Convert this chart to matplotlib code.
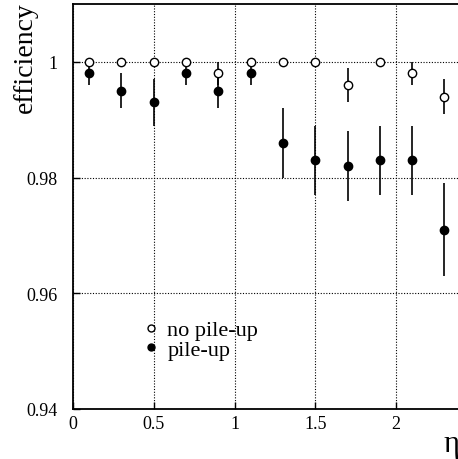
#!/usr/bin/env python3
import matplotlib
matplotlib.use("Agg")
from matplotlib import pyplot as plt
from matplotlib.lines import Line2D

# eta bin centres
eta = [0.1, 0.3, 0.5, 0.7, 0.9, 1.1, 1.3, 1.5, 1.7, 1.9, 2.1, 2.3]

# efficiency without pile-up
eff_nopu = [1.000, 1.000, 1.000, 1.000, 0.998, 1.000, 1.000, 1.000, 0.996, 1.000, 0.998, 0.994]
err_nopu = [0.000, 0.000, 0.000, 0.000, 0.002, 0.000, 0.000, 0.000, 0.003, 0.000, 0.002, 0.003]

# efficiency with pile-up
eff_pu = [0.998, 0.995, 0.993, 0.998, 0.995, 0.998, 0.986, 0.983, 0.982, 0.983, 0.983, 0.971]
err_pu = [0.002, 0.003, 0.004, 0.002, 0.003, 0.002, 0.006, 0.006, 0.006, 0.006, 0.006, 0.008]

xticks = [0, 0.5, 1, 1.5, 2]
xticklabels = ["0", "0.5", "1", "1.5", "2"]
yticks = [0.94, 0.96, 0.98, 1.0]
yticklabels = ["0.94", "0.96", "0.98", "1"]

plt.rcParams["font.family"] = ["Liberation Serif", "DejaVu Serif"]

W, H = 458, 460
fig = plt.figure(figsize=(W / 100, H / 100), dpi=100)
ax = fig.add_axes([73 / W, 50 / H, 387.6 / W, 405 / H])

ax.errorbar(eta, eff_pu, yerr=err_pu, fmt="o", color="black", ms=6,
            elinewidth=1.2, capsize=0, zorder=3)
ax.errorbar(eta, eff_nopu, yerr=err_nopu, fmt="o", color="black", mfc="white",
            mec="black", mew=1.0, ms=6, elinewidth=1.2, capsize=0, zorder=4)

ax.set_xlim(0, 2.4)
ax.set_ylim(0.94, 1.01)
ax.set_xticks(xticks)
ax.set_xticklabels(xticklabels)
ax.set_yticks(yticks)
ax.set_yticklabels(yticklabels)
ax.tick_params(direction="in", length=5, width=1, labelsize=13)
ax.tick_params(axis="x", pad=4)
ax.tick_params(axis="y", pad=11)
ax.grid(True, color="black", linestyle=(0, (1, 1.5)), linewidth=0.8)
for s in ax.spines.values():
    s.set_linewidth(1.3)
ax.spines["right"].set_visible(False)

handles = [
    Line2D([], [], marker="o", ls="none", mfc="white", mec="black", mew=1.0, ms=5),
    Line2D([], [], marker="o", ls="none", color="black", ms=5),
]
ax.legend(handles, ["no pile-up", "pile-up"], loc="upper left",
          bbox_to_anchor=(0.183, 0.22), frameon=False, fontsize=16,
          handlelength=0.6, handletextpad=0.45, labelspacing=-0.05,
          borderpad=0, borderaxespad=0)

fig.text(25 / W, 1 - 2 / H, "efficiency", rotation=90, ha="center", va="top", fontsize=20)
fig.text(443 / W, 1 - 459 / H, "η", ha="left", va="bottom", fontsize=22)

fig.savefig("out.png", dpi=100)
